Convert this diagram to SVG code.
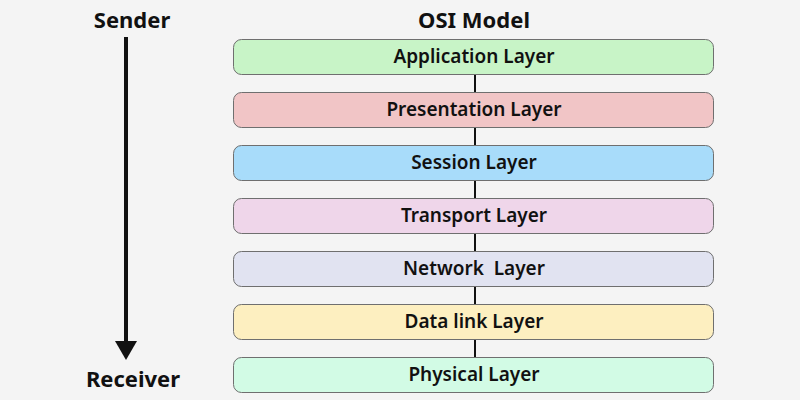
<svg xmlns="http://www.w3.org/2000/svg" width="800" height="400" viewBox="0 0 800 400">
<defs>
<style>
.bg{fill:#f4f4f4}
.box{stroke:#6f6f6f;stroke-width:1}
.lbl{font-family:"Noto Sans","Liberation Sans",sans-serif;font-weight:600;font-size:19px;fill:#111;text-anchor:middle}
.ttl{font-family:"Noto Sans","Liberation Sans",sans-serif;font-weight:700;font-size:22px;fill:#111;text-anchor:middle}
.conn{stroke:#111;stroke-width:2;fill:none}
</style>
</defs>
<rect class="bg" x="0" y="0" width="800" height="400"/>
<g id="connectors">
<line class="conn" x1="475" y1="74" x2="475" y2="93"/>
<line class="conn" x1="475" y1="127" x2="475" y2="146"/>
<line class="conn" x1="475" y1="180" x2="475" y2="199"/>
<line class="conn" x1="475" y1="233" x2="475" y2="252"/>
<line class="conn" x1="475" y1="286" x2="475" y2="305"/>
<line class="conn" x1="475" y1="339" x2="475" y2="358"/>
<g id="flow-arrow">
<line x1="126" y1="37" x2="126" y2="342" stroke="#111" stroke-width="4"/>
<path d="M115,341 L137,341 L126,360 Z" fill="#111"/>
</g>
</g>
<g id="sender"><text class="ttl" x="132" y="28">Sender</text></g>
<g id="receiver"><text class="ttl" x="133" y="387">Receiver</text></g>
<g id="title"><text class="ttl" x="474" y="28">OSI Model</text></g>
<g id="application"><rect class="box" x="233.5" y="39.5" width="480" height="35" rx="8" fill="#c8f4c7"/><text class="lbl" x="474" y="63">Application Layer</text></g>
<g id="presentation"><rect class="box" x="233.5" y="92.5" width="480" height="35" rx="8" fill="#f1c5c6"/><text class="lbl" x="474" y="116">Presentation Layer</text></g>
<g id="session"><rect class="box" x="233.5" y="145.5" width="480" height="35" rx="8" fill="#a8dcfa"/><text class="lbl" x="474" y="169">Session Layer</text></g>
<g id="transport"><rect class="box" x="233.5" y="198.5" width="480" height="35" rx="8" fill="#efd6ea"/><text class="lbl" x="474" y="222">Transport Layer</text></g>
<g id="network"><rect class="box" x="233.5" y="251.5" width="480" height="35" rx="8" fill="#e1e3f1"/><text class="lbl" x="474" y="275" xml:space="preserve">Network  Layer</text></g>
<g id="datalink"><rect class="box" x="233.5" y="304.5" width="480" height="35" rx="8" fill="#fdefc0"/><text class="lbl" x="474" y="328">Data link Layer</text></g>
<g id="physical"><rect class="box" x="233.5" y="357.5" width="480" height="35" rx="8" fill="#d2fbe5"/><text class="lbl" x="474" y="381">Physical Layer</text></g>
</svg>
